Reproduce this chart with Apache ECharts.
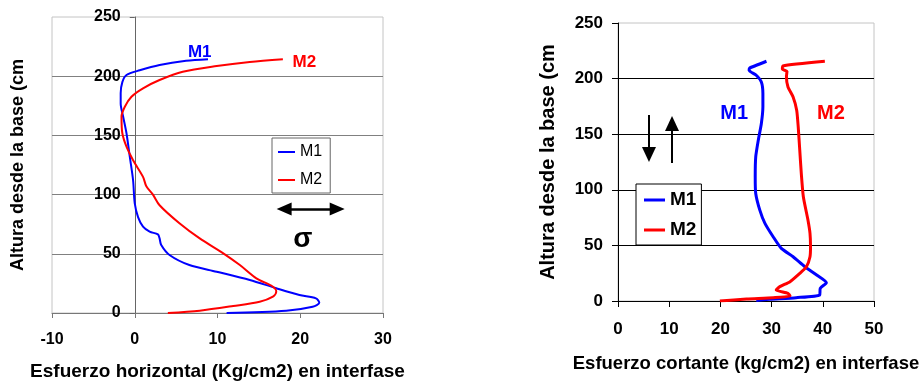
<!DOCTYPE html>
<html>
<head>
<meta charset="utf-8">
<script src="https://cdn.jsdelivr.net/npm/echarts@6/dist/echarts.min.js"></script>
<style>
  html, body { margin: 0; padding: 0; background: #fff; }
  #chart { width: 922px; height: 383px; }
</style>
</head>
<body>
<div id="chart"></div>
<script>
// [esfuerzo, altura] pairs
var horizM1 = [[11.1,0],[18.3,2],[21.5,5.3],[22.3,8.7],[21.9,12.4],[19.9,15.2],[17.1,20.9],[13.9,27.9],[9.9,34.9],[6.6,40.5],[4.2,49],[3.2,57.4],[3.0,63],[2.8,66.4],[1.8,68.7],[1.0,72.9],[0.4,81],[0,92.6],[-0.2,112],[-0.6,132],[-1.0,151.8],[-1.4,165.8],[-1.7,177],[-1.7,185.6],[-1.5,195],[-1.0,201],[0.6,205],[3.0,209.5],[6.2,213],[8.85,214.3]];
var horizM2 = [[4.0,0],[7.85,2],[11.9,5.9],[15.1,9.5],[16.7,13.8],[17.1,18],[16.7,22.2],[14.7,29.3],[12.7,40.5],[10.7,50.4],[7.85,63],[5.4,75.8],[3.0,91],[2.2,100],[1.4,107],[1.0,115],[-0.2,129],[-1.0,140.5],[-1.5,151.8],[-1.6,165.8],[-1.2,174.2],[-0.4,182.7],[1.0,189.8],[3.0,196.8],[5.8,203.8],[9.9,208.6],[13.9,212],[17.9,214.3]];
var cortM1 = [[27.0,0.5],[29.6,1.5],[34.8,3],[39.4,5.4],[39.5,11.4],[40.7,16.5],[38.8,23.4],[36.5,30.8],[34.2,39.8],[31.9,47.3],[30.3,57.8],[28.7,69.8],[27.7,81.7],[26.9,96.7],[26.8,111.7],[26.9,129.6],[27.4,144.6],[28.0,159.6],[28.3,174.6],[28.3,186.5],[28.0,197],[27.0,203],[25.6,207.5],[25.7,209.5],[29.0,215.6]];
var cortM2 = [[19.9,0],[25.1,1.8],[30.3,3],[33.6,4.5],[33.2,6.9],[30.9,9.9],[31.6,12.9],[33.6,17.4],[35.5,24.8],[36.8,30.8],[37.5,39.8],[37.6,48.8],[37.5,60.8],[37.1,72.8],[36.2,93.7],[35.8,114.7],[35.5,135.6],[35.2,156.6],[34.9,171.6],[34.2,183.5],[33.2,192.5],[32.9,201.5],[33.0,206.6],[32.1,208.4],[32.2,211.4],[40.4,215.6]];

var seriesNames = ['M1', 'M2'];
// the title is cut off in the original picture
var yTitle = 'Altura desde la base (cm';
var xTitleLeft = 'Esfuerzo horizontal (Kg/cm2) en interfase';
var xTitleRight = 'Esfuerzo cortante (kg/cm2) en interfase';

var BLUE = '#0000ff', RED = '#ff0000';
var FONT = 'Liberation Sans, Arial, sans-serif';

// left panel: the height axis sits on x = 0, i.e. 10 of 40 units into a 331px grid
var LEFT_W = 331;
var yOffsetLeft = -LEFT_W * 10 / 40;

var myChart = echarts.init(document.getElementById('chart'));

var option = {
    backgroundColor: '#fff',
    animation: false,
    textStyle: { fontFamily: FONT },
    grid: [
        { left: 52, top: 17, width: LEFT_W, height: 296, show: true, borderColor: '#c4c4c4', borderWidth: 1, outerBoundsMode: 'none', containLabel: false },
        { left: 618, top: 23, width: 256, height: 278, show: true, borderColor: '#c4c4c4', borderWidth: 1, outerBoundsMode: 'none', containLabel: false }
    ],
    xAxis: [
        {
            gridIndex: 0, type: 'value', min: -10, max: 30, interval: 10,
            name: xTitleLeft, nameLocation: 'middle', nameGap: 49,
            nameTextStyle: { fontSize: 19, fontWeight: 'bold', color: '#000', fontFamily: FONT },
            axisLine: { onZero: false, lineStyle: { color: '#777' } },
            axisTick: { show: true, length: 5, lineStyle: { color: '#777' } },
            axisLabel: { fontSize: 16, fontWeight: 'bold', color: '#000', margin: 19, fontFamily: FONT },
            splitLine: { show: false }
        },
        {
            gridIndex: 1, type: 'value', min: 0, max: 50, interval: 10,
            name: xTitleRight, nameLocation: 'middle', nameGap: 53,
            nameTextStyle: { fontSize: 18.5, fontWeight: 'bold', color: '#000', fontFamily: FONT },
            axisLine: { onZero: false, lineStyle: { color: '#000' } },
            axisTick: { show: true, length: 6, lineStyle: { color: '#000' } },
            axisLabel: { fontSize: 17, fontWeight: 'bold', color: '#000', margin: 20, fontFamily: FONT },
            splitLine: { show: false }
        }
    ],
    yAxis: [
        {
            gridIndex: 0, type: 'value', min: 0, max: 250, interval: 50,
            offset: yOffsetLeft,
            name: yTitle, nameLocation: 'middle', nameGap: 108, nameRotate: 90,
            nameTextStyle: { fontSize: 18, fontWeight: 'bold', color: '#000', fontFamily: FONT },
            axisLine: { show: true, onZero: false, lineStyle: { color: '#666' } },
            axisTick: { show: true, length: 5, lineStyle: { color: '#666' } },
            axisLabel: { fontSize: 16, fontWeight: 'bold', color: '#000', margin: 14, fontFamily: FONT },
            splitLine: { show: true, showMinLine: false, showMaxLine: false, lineStyle: { color: '#808080' } }
        },
        {
            gridIndex: 1, type: 'value', min: 0, max: 250, interval: 50,
            name: yTitle, nameLocation: 'middle', nameGap: 60, nameRotate: 90,
            nameTextStyle: { fontSize: 20, fontWeight: 'bold', color: '#000', fontFamily: FONT },
            axisLine: { show: true, lineStyle: { color: '#000' } },
            axisTick: { show: true, length: 6, lineStyle: { color: '#000' } },
            axisLabel: { fontSize: 17, fontWeight: 'bold', color: '#000', margin: 15, fontFamily: FONT },
            splitLine: { show: true, showMinLine: false, showMaxLine: false, lineStyle: { color: '#000' } }
        }
    ],
    legend: [
        {
            data: seriesNames, orient: 'vertical', left: 272, top: 138,
            padding: [5, 8, 4, 6], itemGap: 10, itemWidth: 17, itemHeight: 2, icon: 'rect',
            borderColor: '#666', borderWidth: 1, backgroundColor: '#fff',
            selectedMode: false,
            textStyle: { fontSize: 16, color: '#000', lineHeight: 18, fontFamily: FONT }
        },
        {
            data: seriesNames, orient: 'vertical', left: 636, top: 184,
            padding: [6, 5, 5, 8], itemGap: 10, itemWidth: 21, itemHeight: 3, icon: 'rect',
            borderColor: '#000', borderWidth: 1, backgroundColor: '#fff',
            selectedMode: false,
            textStyle: { fontSize: 19, fontWeight: 'bold', color: '#000', lineHeight: 20, fontFamily: FONT }
        }
    ],
    series: [
        {
            name: seriesNames[0], type: 'line', xAxisIndex: 0, yAxisIndex: 0,
            data: horizM1, showSymbol: false, smooth: 0.3, color: BLUE,
            lineStyle: { width: 2, color: BLUE },
            markPoint: {
                symbol: 'rect', symbolSize: 1, itemStyle: { color: 'transparent' },
                label: { show: true, position: 'inside', fontSize: 17, fontWeight: 'bold', fontFamily: FONT },
                data: [
                    { coord: [7.85, 220.4], label: { formatter: 'M1', color: BLUE } },
                    { coord: [20.5, 212], label: { formatter: 'M2', color: RED } },
                    { coord: [20.3, 62], label: { formatter: 'σ', color: '#000', fontSize: 28 } }
                ]
            },
            markLine: {
                silent: true, symbol: ['triangle', 'triangle'], symbolSize: [13, 15],
                label: { show: false },
                lineStyle: { color: '#000', width: 2.5, type: 'solid' },
                data: [[{ coord: [18.05, 87.8] }, { coord: [24.46, 87.8] }]]
            }
        },
        {
            name: seriesNames[1], type: 'line', xAxisIndex: 0, yAxisIndex: 0,
            data: horizM2, showSymbol: false, smooth: 0.3, color: RED,
            lineStyle: { width: 2, color: RED }
        },
        {
            name: seriesNames[0], type: 'line', xAxisIndex: 1, yAxisIndex: 1,
            data: cortM1, showSymbol: false, smooth: 0.2, color: BLUE,
            lineStyle: { width: 3, color: BLUE },
            markPoint: {
                symbol: 'rect', symbolSize: 1, itemStyle: { color: 'transparent' },
                label: { show: true, position: 'inside', fontSize: 20, fontWeight: 'bold', fontFamily: FONT },
                data: [
                    { coord: [22.7, 169], label: { formatter: 'M1', color: BLUE } },
                    { coord: [41.6, 169], label: { formatter: 'M2', color: RED } }
                ]
            },
            markLine: {
                silent: true, symbolSize: [14, 15],
                label: { show: false },
                lineStyle: { color: '#000', width: 2, type: 'solid' },
                data: [
                    [{ coord: [6.05, 167.3], symbol: 'none' }, { coord: [6.05, 131.7], symbol: 'triangle' }],
                    [{ coord: [10.55, 124.1], symbol: 'none' }, { coord: [10.55, 159.6], symbol: 'triangle' }]
                ]
            }
        },
        {
            name: seriesNames[1], type: 'line', xAxisIndex: 1, yAxisIndex: 1,
            data: cortM2, showSymbol: false, smooth: 0.2, color: RED,
            lineStyle: { width: 3, color: RED }
        }
    ]
};

myChart.setOption(option);
</script>
</body>
</html>
